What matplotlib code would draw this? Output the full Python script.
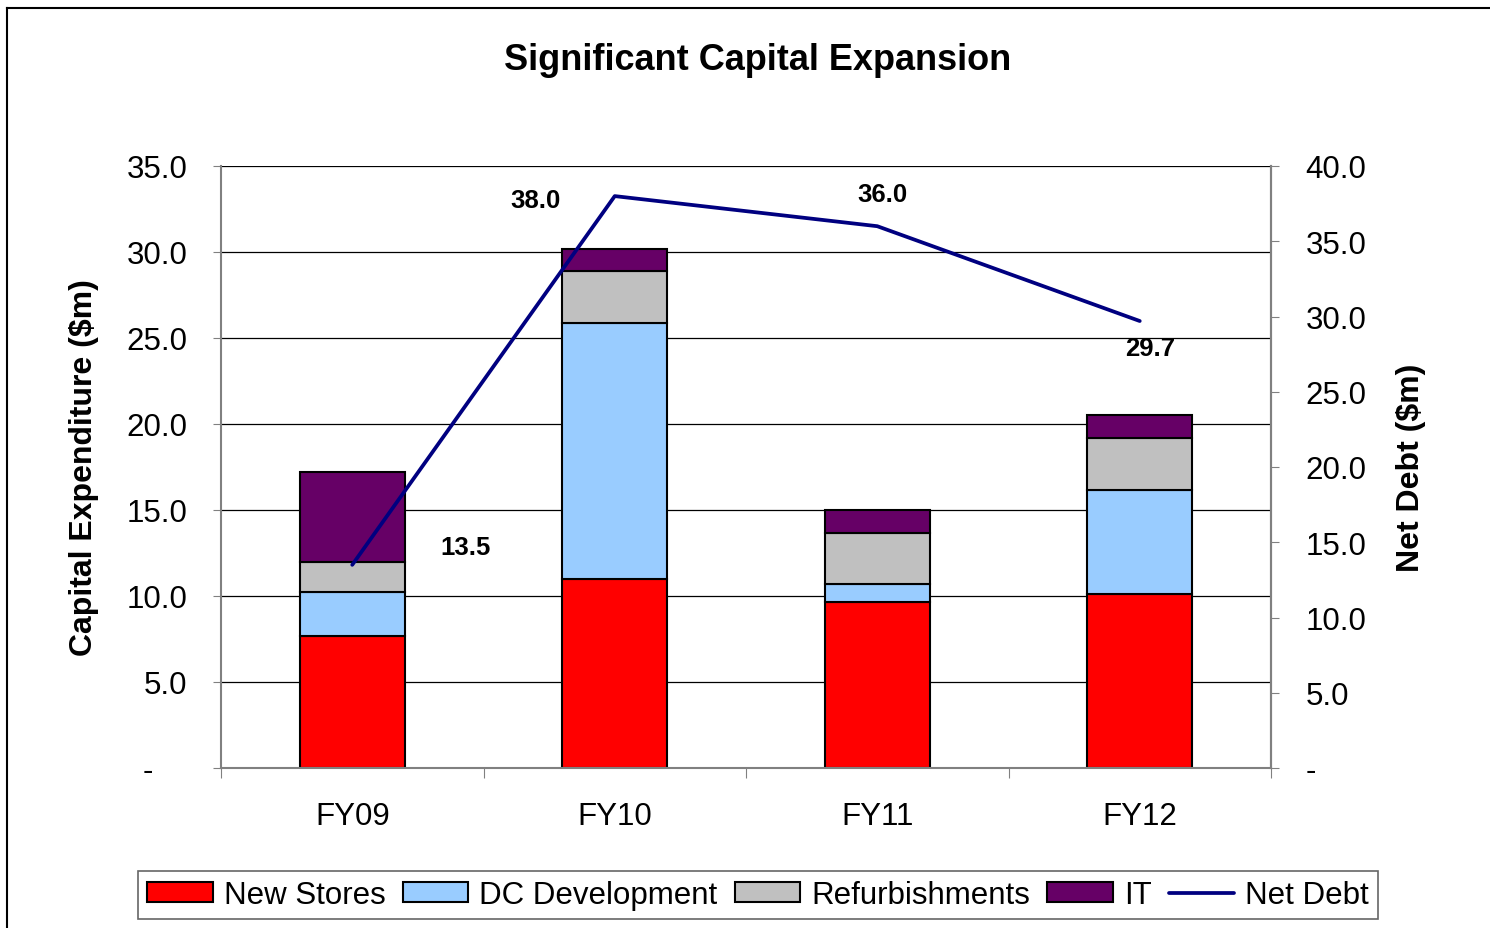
import numpy as np
import matplotlib
matplotlib.use("Agg")
import matplotlib.pyplot as plt
from matplotlib.lines import Line2D

plt.rcParams['font.family'] = ['Liberation Sans', 'DejaVu Sans']

# 数据
years = ['FY09', 'FY10', 'FY11', 'FY12']
new_stores = [7.7, 11.0, 9.65, 10.1]
dc_development = [2.55, 14.9, 1.05, 6.05]
refurbishments = [1.75, 3.0, 2.95, 3.05]
it_spend = [5.2, 1.3, 1.35, 1.3]
net_debt = [13.5, 38.0, 36.0, 29.7]
left_ticks = [0, 5, 10, 15, 20, 25, 30, 35]
right_ticks = [0, 5, 10, 15, 20, 25, 30, 35, 40]

W, H = 1490, 929
fig = plt.figure(figsize=(W / 100, H / 100), dpi=100)
ax = fig.add_axes([221 / W, (H - 769) / H, (1271 - 221) / W, (769 - 167) / H])

x = np.arange(len(years))
bw = 0.4
series = [
    (new_stores, '#FF0000', 'New Stores'),
    (dc_development, '#99CCFF', 'DC Development'),
    (refurbishments, '#C0C0C0', 'Refurbishments'),
    (it_spend, '#660066', 'IT'),
]
bottom = np.zeros(len(years))
handles = []
for vals, col, lab in series:
    b = ax.bar(x, vals, bw, bottom=bottom, color=col, edgecolor='black',
               linewidth=1.5, label=lab, zorder=2)
    handles.append(b)
    bottom += np.array(vals)

ax.set_xlim(-0.5, 3.5)
ax.set_ylim(0, 35)
ax.set_yticks(left_ticks)
ax.set_yticklabels(['-    '] + [f'{v:.1f}' for v in left_ticks[1:]])
ax.yaxis.grid(True, color='black', linewidth=0.9)
ax.set_axisbelow(True)
ax.tick_params(axis='y', direction='out', length=6, pad=18, labelsize=22.5,
               color='#808080')

# 类别刻度在边界，标签在中间
ax.set_xticks([-0.5, 0.5, 1.5, 2.5, 3.5])
ax.set_xticklabels([])
ax.set_xticks(x, minor=True)
ax.set_xticklabels(years, minor=True)
ax.tick_params(axis='x', which='major', direction='out', length=7, color='#808080')
ax.tick_params(axis='x', which='minor', length=0, pad=24, labelsize=22.5)

for s in ['left', 'bottom', 'right']:
    ax.spines[s].set_color('#808080')
    ax.spines[s].set_linewidth(1.5)
ax.spines['top'].set_visible(False)

ax.set_ylabel('Capital Expenditure ($m)', fontsize=23, fontweight='bold', labelpad=20)

# 净负债
ax2 = ax.twinx()
ax2.set_ylim(0, 40)
ax2.set_yticks(right_ticks)
ax2.set_yticklabels(['-'] + [f'{v:.1f}' for v in right_ticks[1:]])
ax2.tick_params(axis='y', direction='out', length=6, pad=19, labelsize=22.5,
                color='#808080')
for s in ['left', 'bottom', 'top']:
    ax2.spines[s].set_visible(False)
ax2.spines['right'].set_color('#808080')
ax2.spines['right'].set_linewidth(1.5)
line, = ax2.plot(x, net_debt, color='#000080', linewidth=2.7, label='Net Debt',
                 solid_capstyle='round')
ax2.set_ylabel('Net Debt ($m)', fontsize=23, fontweight='bold', labelpad=21)

offsets = [(113, 18), (-79, -4), (5, 32), (10, -27)]
for xi, v, off in zip(x, net_debt, offsets):
    ax2.annotate(f'{v:.1f}', (xi, v), xytext=off, textcoords='offset pixels',
                 ha='center', va='center', fontsize=18.5, fontweight='bold')

fig.text(758 / W, 1 - 61 / H, 'Significant Capital Expansion', ha='center',
         va='center', fontsize=26, fontweight='bold')

leg = fig.legend(handles + [line], [h.get_label() for h in handles] + ['Net Debt'],
                 loc='center', bbox_to_anchor=(758 / W, 1 - 896 / H), ncol=5,
                 fontsize=22.5, frameon=True, fancybox=False, shadow=False,
                 handlelength=2.1, handleheight=0.6, handletextpad=0.35,
                 columnspacing=0.55, borderpad=0.3, borderaxespad=0)
leg.get_frame().set_edgecolor('#404040')
leg.get_frame().set_linewidth(1.2)

# 外框（上、左）
fig.add_artist(Line2D([7 / W, 1], [1 - 9 / H, 1 - 9 / H], transform=fig.transFigure,
                      color='black', linewidth=1.5))
fig.add_artist(Line2D([7 / W, 7 / W], [0, 1 - 9 / H], transform=fig.transFigure,
                      color='black', linewidth=1.5))

fig.savefig('out.png', dpi=100)
